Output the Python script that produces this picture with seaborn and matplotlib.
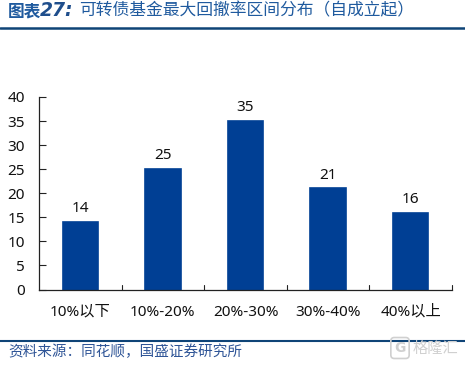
import matplotlib
matplotlib.use("Agg")
import matplotlib.pyplot as plt
import pandas as pd
import seaborn as sns
from matplotlib.lines import Line2D

# === data ===
categories = ["10%以下", "10%-20%", "20%-30%", "30%-40%", "40%以上"]
counts = [14, 25, 35, 21, 16]
y_ticks = [0, 5, 10, 15, 20, 25, 30, 35, 40]

df = pd.DataFrame({"range": categories, "count": counts})

sns.set_theme(style="white")
plt.rcParams["font.family"] = ["Noto Sans", "Noto Sans CJK SC", "DejaVu Sans"]
cjk = ["Noto Sans CJK SC", "DejaVu Sans"]

W, H = 465, 365
fig = plt.figure(figsize=(W / 100, H / 100), dpi=100, facecolor="white")
ax = fig.add_axes([39 / W, 1 - 289.5 / H, (452 - 39) / W, 192.5 / H])

# thin edge in the bar colour gives the slightly soft, oversized bar look
sns.barplot(data=df, x="range", y="count", color="#003F94", saturation=1,
            width=0.43, edgecolor="#003F94", linewidth=1.2, ax=ax)
for p in ax.patches:
    p.set_clip_on(False)

ax.set_xlim(-0.5, 4.5)
ax.set_ylim(0, 40)
ax.set_xlabel("")
ax.set_ylabel("")
ax.set_yticks(y_ticks)

sns.despine(ax=ax)
for side in ["left", "bottom"]:
    ax.spines[side].set_linewidth(0.9)
    ax.spines[side].set_color("#222222")

# y ticks point into the plot
ax.tick_params(axis="y", direction="in", length=5, width=0.8, color="#222222",
               left=True, labelsize=11, labelcolor="#111111", pad=10)
# x ticks sit on the category boundaries, so hide the centred ones
ax.tick_params(axis="x", bottom=False, labelsize=11, labelcolor="#111111", pad=5)
ax.set_xticks(range(len(categories)))
ax.set_xticklabels(categories)
for b in [0.5, 1.5, 2.5, 3.5, 4.5]:
    ax.plot([b, b], [0, 1], color="#222222", lw=0.8, clip_on=False)

for i, v in enumerate(counts):
    ax.text(i, v + 1.2, str(v), ha="center", va="bottom", fontsize=11, color="#111111")

# === header and footer ===
title_color = "#1F5A9E"
fig.text(8 / W, 1 - 11 / H, "图表", fontsize=12, family=cjk, weight="bold",
         color=title_color, va="center")
fig.text(40 / W, 1 - 11 / H, "27:", fontsize=13.5, family="DejaVu Sans", weight="bold",
         style="italic", color="#1F4E8C", va="center")
fig.text(79 / W, 1 - 11 / H, "可转债基金最大回撤率区间分布（自成立起）", fontsize=12.1,
         family=cjk, color=title_color, va="center")
fig.text(8 / W, 1 - 352 / H, "资料来源：同花顺，国盛证券研究所", fontsize=10.5,
         family=cjk, color="#2F5597", va="center")

fig.add_artist(Line2D([0, 1], [1 - 28 / H] * 2, color="#0F4477", lw=1.8))
fig.add_artist(Line2D([0, 1], [1 - 341 / H] * 2, color="#0F4477", lw=1.5))

# watermark
fig.text(435 / W, 1 - 348 / H, "格隆汇", fontsize=11, family=cjk, color="#D0D0D0",
         ha="center", va="center")
fig.text(400 / W, 1 - 348 / H, "G", fontsize=10, family="DejaVu Sans", weight="bold",
         color="#D0D0D0", ha="center", va="center",
         bbox=dict(boxstyle="round,pad=0.25", fc="none", ec="#D0D0D0", lw=1.2))

fig.savefig("out.png", dpi=100)
